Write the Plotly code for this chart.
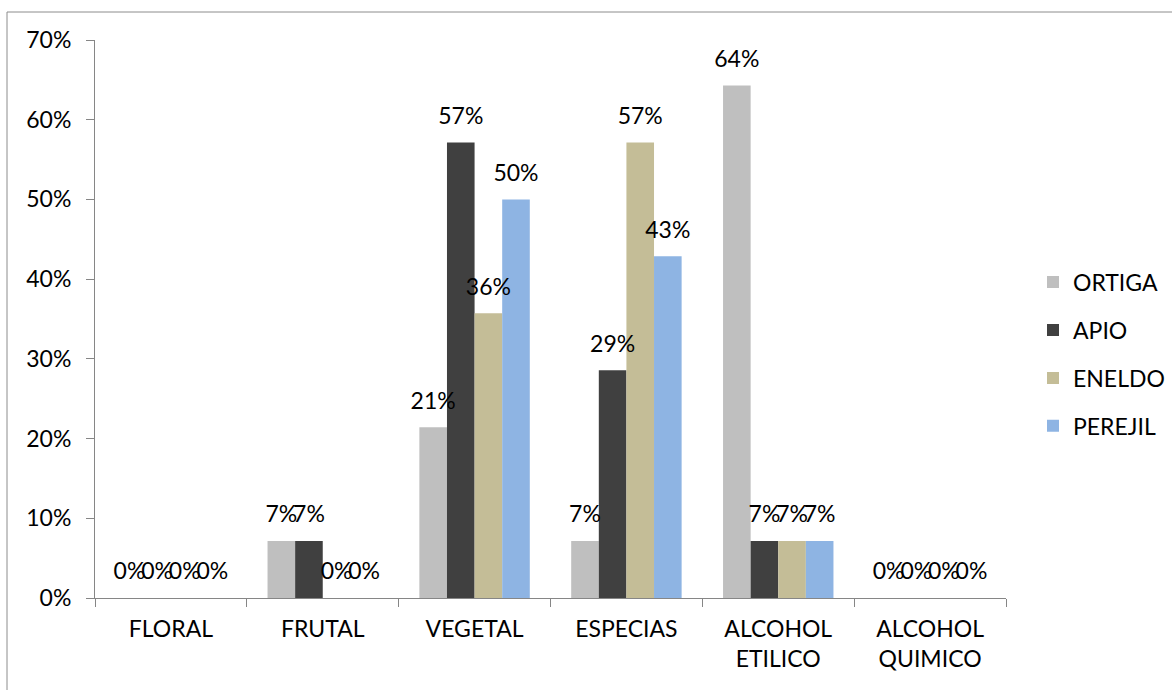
import plotly.graph_objects as go

categories = ["FLORAL", "FRUTAL", "VEGETAL", "ESPECIAS", "ALCOHOL<br>ETILICO", "ALCOHOL<br>QUIMICO"]
series_names = ["ORTIGA", "APIO", "ENELDO", "PEREJIL"]
ortiga = [0.0, 0.0714, 0.2143, 0.0714, 0.6429, 0.0]
apio = [0.0, 0.0714, 0.5714, 0.2857, 0.0714, 0.0]
eneldo = [0.0, 0.0, 0.3571, 0.5714, 0.0714, 0.0]
perejil = [0.0, 0.0, 0.5, 0.4286, 0.0714, 0.0]
series_values = [ortiga, apio, eneldo, perejil]
colors = ["#BFBFBF", "#404040", "#C4BD97", "#8EB4E3"]
y_ticks = [0, 0.1, 0.2, 0.3, 0.4, 0.5, 0.6, 0.7]

FONT = "Lato"
FS = 23
AXIS = "#868686"
GAP = 1.5 / 5.5

fig = go.Figure()
for name, vals, col in zip(series_names, series_values, colors):
    fig.add_trace(go.Bar(
        x=categories, y=vals, name=name, marker=dict(color=col, line=dict(width=0)),
        legendgroup=name, hoverinfo="skip",
    ))
for name, vals in zip(series_names, series_values):
    fig.add_trace(go.Scatter(
        x=categories, y=vals, mode="markers+text",
        text=[f"{round(v*100):.0f}%" for v in vals],
        textposition="top center",
        textfont=dict(family=FONT, size=FS, color="#000000"),
        marker=dict(size=19, opacity=0),
        showlegend=False, hoverinfo="skip", cliponaxis=False,
    ))

fig.update_layout(
    width=1172, height=690,
    margin=dict(l=95, r=166, t=40, b=92, autoexpand=False),
    paper_bgcolor="white", plot_bgcolor="white",
    font=dict(family=FONT, size=FS, color="#000000"),
    barmode="group", bargap=GAP, bargroupgap=0,
    scattermode="group", scattergap=GAP,
    showlegend=True,
    legend=dict(x=(1033 - 95) / 911, xanchor="left", y=0.437, yanchor="middle",
                font=dict(family=FONT, size=FS, color="#000000"),
                tracegroupgap=15, bgcolor="rgba(0,0,0,0)"),
    xaxis=dict(showline=True, linecolor=AXIS, linewidth=1, ticks="outside", tickson="boundaries",
               ticklen=8, tickcolor=AXIS, showgrid=False, zeroline=False, automargin=False,
               ticklabelstandoff=10,
               tickfont=dict(family=FONT, size=FS, color="#000000")),
    yaxis=dict(range=[0, 0.7], tickvals=y_ticks, tickformat=".0%", showline=True, linecolor=AXIS,
               linewidth=1, ticks="outside", ticklen=8, tickcolor=AXIS, showgrid=False,
               zeroline=False, ticklabelstandoff=10, automargin=False,
               tickfont=dict(family=FONT, size=FS, color="#000000")),
    shapes=[dict(type="rect", xref="paper", yref="paper",
                 x0=(7 - 95) / 911, x1=1.3, y0=-0.3, y1=(598 - 12) / 558,
                 line=dict(color="#8C8C8C", width=1), fillcolor="rgba(0,0,0,0)", layer="below")],
)

fig.write_html("out.html")
